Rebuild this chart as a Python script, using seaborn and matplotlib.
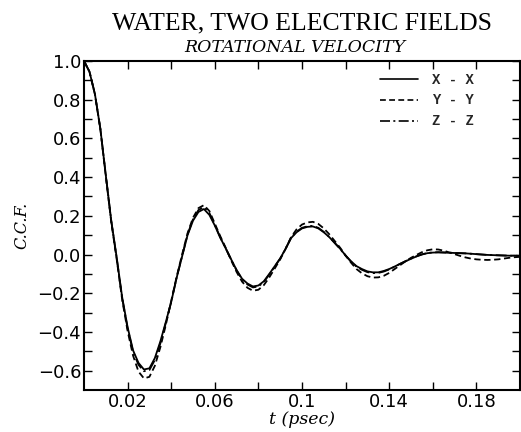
import matplotlib
matplotlib.use("Agg")
import matplotlib.pyplot as plt
import matplotlib.ticker as mticker
import numpy as np
import pandas as pd
import seaborn as sns

# ---- data ----
t_psec = [0.0, 0.0025, 0.005, 0.0075, 0.01, 0.0125, 0.015, 0.0175, 0.02, 0.0225,
          0.025, 0.0275, 0.03, 0.0325, 0.035, 0.0375, 0.04, 0.0425, 0.045, 0.0475,
          0.05, 0.0525, 0.055, 0.0575, 0.06, 0.0625, 0.065, 0.0675, 0.07, 0.0725,
          0.075, 0.0775, 0.08, 0.0825, 0.085, 0.0875, 0.09, 0.0925, 0.095, 0.0975,
          0.1, 0.1025, 0.105, 0.1075, 0.11, 0.1125, 0.115, 0.1175, 0.12, 0.1225,
          0.125, 0.1275, 0.13, 0.1325, 0.135, 0.1375, 0.14, 0.1425, 0.145, 0.1475,
          0.15, 0.1525, 0.155, 0.1575, 0.16, 0.1625, 0.165, 0.1675, 0.17, 0.1725,
          0.175, 0.1775, 0.18, 0.1825, 0.185, 0.1875, 0.19, 0.1925, 0.195, 0.1975,
          0.2]

ccf_xx = [1.000, 0.945, 0.830, 0.650, 0.410, 0.175, -0.015, -0.220, -0.375, -0.495,
          -0.560, -0.594, -0.588, -0.535, -0.450, -0.350, -0.245, -0.120, -0.010, 0.100,
          0.175, 0.220, 0.235, 0.205, 0.150, 0.087, 0.032, -0.025, -0.080, -0.125,
          -0.150, -0.165, -0.160, -0.138, -0.100, -0.060, -0.020, 0.030, 0.085, 0.115,
          0.135, 0.143, 0.145, 0.135, 0.115, 0.090, 0.060, 0.030, -0.005, -0.035,
          -0.060, -0.075, -0.087, -0.092, -0.092, -0.085, -0.075, -0.062, -0.048, -0.035,
          -0.022, -0.010, 0.000, 0.007, 0.010, 0.011, 0.010, 0.009, 0.008, 0.007,
          0.006, 0.004, 0.002, 0.000, -0.002, -0.003, -0.004, -0.005, -0.006, -0.006,
          -0.007]

ccf_yy = [1.000, 0.945, 0.828, 0.648, 0.405, 0.168, -0.025, -0.232, -0.395, -0.522,
          -0.605, -0.640, -0.632, -0.575, -0.480, -0.365, -0.240, -0.115, 0.000, 0.110,
          0.190, 0.240, 0.255, 0.225, 0.160, 0.095, 0.035, -0.030, -0.090, -0.140,
          -0.172, -0.187, -0.182, -0.158, -0.118, -0.072, -0.025, 0.030, 0.090, 0.130,
          0.155, 0.166, 0.169, 0.158, 0.135, 0.105, 0.070, 0.035, -0.005, -0.042,
          -0.075, -0.097, -0.112, -0.119, -0.118, -0.110, -0.095, -0.075, -0.055, -0.035,
          -0.017, -0.002, 0.012, 0.022, 0.027, 0.026, 0.020, 0.011, 0.002, -0.007,
          -0.015, -0.021, -0.025, -0.027, -0.028, -0.027, -0.025, -0.021, -0.017, -0.014,
          -0.012]

ccf_zz = [1.000, 0.945, 0.830, 0.650, 0.410, 0.173, -0.020, -0.225, -0.382, -0.502,
          -0.570, -0.603, -0.597, -0.545, -0.460, -0.355, -0.245, -0.118, -0.008, 0.104,
          0.182, 0.230, 0.245, 0.215, 0.153, 0.089, 0.032, -0.026, -0.082, -0.128,
          -0.155, -0.170, -0.165, -0.142, -0.103, -0.062, -0.021, 0.031, 0.087, 0.118,
          0.138, 0.146, 0.148, 0.138, 0.117, 0.091, 0.060, 0.029, -0.006, -0.037,
          -0.063, -0.079, -0.091, -0.096, -0.095, -0.088, -0.077, -0.063, -0.048, -0.034,
          -0.021, -0.009, 0.001, 0.008, 0.011, 0.012, 0.011, 0.010, 0.008, 0.007,
          0.006, 0.004, 0.002, 0.000, -0.002, -0.003, -0.004, -0.005, -0.006, -0.006,
          -0.007]

series_labels = ["X - X", "Y - Y", "Z - Z"]
x_tick_values = [0.02, 0.06, 0.1, 0.14, 0.18]
x_tick_labels = ["0.02", "0.06", "0.1", "0.14", "0.18"]
y_tick_values = [-0.6, -0.4, -0.2, 0.0, 0.2, 0.4, 0.6, 0.8, 1.0]
y_tick_labels = ["\u22120.6", "\u22120.4", "\u22120.2", "0.0", "0.2", "0.4", "0.6", "0.8", "1.0"]

title_text = "WATER, TWO ELECTRIC FIELDS"
subtitle_text = "ROTATIONAL VELOCITY"
x_label = "t (psec)"
y_label = "C.C.F."

# ---- long-form table ----
df = pd.concat([
    pd.DataFrame({"t": t_psec, "ccf": vals, "series": lab})
    for lab, vals in zip(series_labels, [ccf_xx, ccf_yy, ccf_zz])
], ignore_index=True)

sns.set_theme(style="ticks")
plt.rcParams["font.family"] = ["DejaVu Sans"]

fig = plt.figure(figsize=(5.21, 4.32), dpi=100)
ax = fig.add_axes([84 / 521, 1 - 390 / 432, 436 / 521, 329 / 432])

dash_map = {"X - X": "", "Y - Y": (3.5, 2.0), "Z - Z": (6.0, 2.0, 1.2, 2.0)}
sns.lineplot(data=df, x="t", y="ccf", style="series", style_order=series_labels,
             dashes=dash_map, color="black", linewidth=1.3, ax=ax, sort=True,
             legend=True)

ax.set_xlim(0, 0.2)
ax.set_ylim(-0.7, 1.0)
ax.set_xticks(x_tick_values)
ax.set_xticklabels(x_tick_labels)
ax.set_yticks(y_tick_values)
ax.set_yticklabels(y_tick_labels)
ax.xaxis.set_minor_locator(mticker.FixedLocator([0.04, 0.08, 0.12, 0.16]))
ax.yaxis.set_minor_locator(mticker.FixedLocator([-0.5, -0.3, -0.1, 0.1, 0.3, 0.5, 0.7, 0.9]))
for which in ("major", "minor"):
    ax.tick_params(axis="both", which=which, direction="in", length=5.5, width=1.0,
                   top=True, right=True, color="black")
ax.tick_params(axis="both", which="major", labelsize=13, labelcolor="black", pad=2)
for lbl in ax.get_xticklabels() + ax.get_yticklabels():
    lbl.set_family("DejaVu Sans")
for sp in ax.spines.values():
    sp.set_linewidth(1.5)
    sp.set_color("black")

ax.set_xlabel(x_label, family="DejaVu Serif", style="italic", fontsize=12.5,
              labelpad=0, color="black")
ax.set_ylabel(y_label, family="DejaVu Serif", style="italic", fontsize=11.5,
              labelpad=5, color="black")

leg = ax.legend(loc="upper left", bbox_to_anchor=(0.678, 0.965), frameon=False,
                handlelength=2.8, handletextpad=1.0, labelspacing=0.5,
                borderaxespad=0, borderpad=0,
                prop={"family": "Liberation Mono", "weight": "bold", "size": 10})
for line in leg.get_lines():
    line.set_linewidth(1.2)
for txt in leg.get_texts():
    txt.set_fontweight("bold")
    txt.set_family("Liberation Mono")

fig.text(302 / 521, 1 - 23 / 432, title_text, family="Liberation Serif", fontsize=18.5,
         ha="center", va="center", color="black")
fig.text(295 / 521, 1 - 48 / 432, subtitle_text, family="DejaVu Serif", style="italic",
         fontsize=12.5, ha="center", va="center", color="black")

fig.savefig("out.png", dpi=100, facecolor="white")
